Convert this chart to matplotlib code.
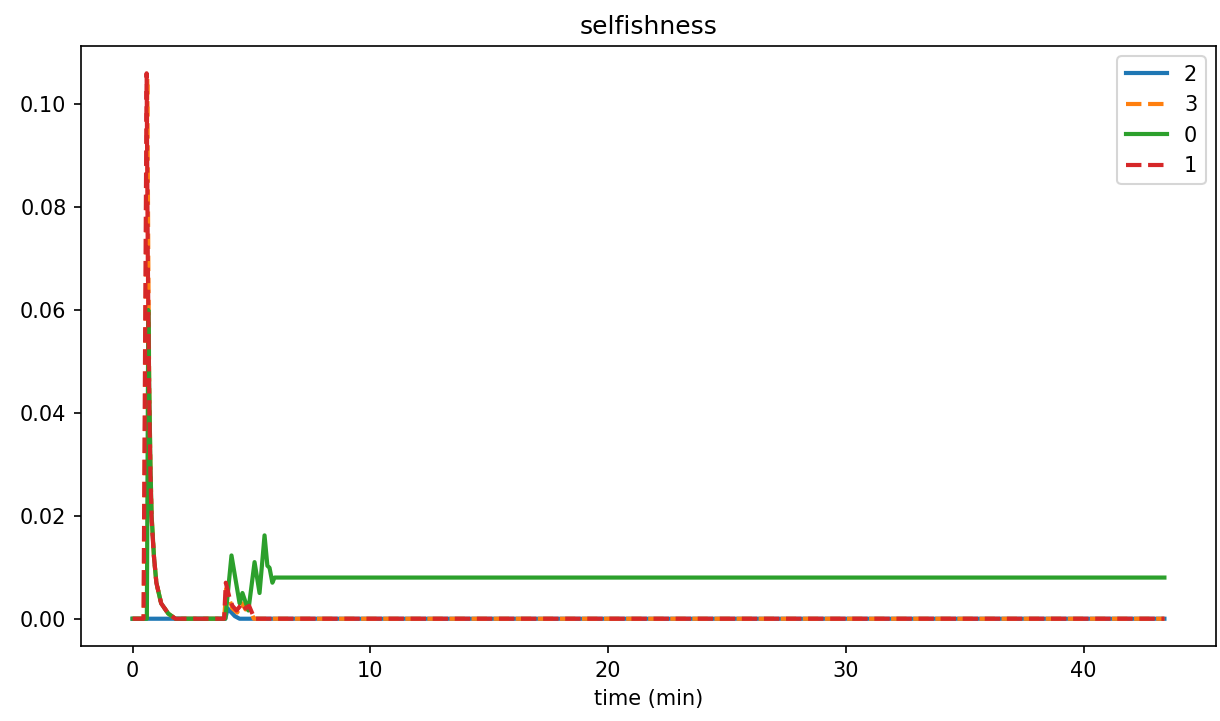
import matplotlib
matplotlib.use('Agg')
import matplotlib.pyplot as plt

# time (min) and selfishness readings for each group
t_2 = [0, 3.9, 4.0, 4.1, 4.3, 4.5, 43.4]
v_2 = [0, 0, 0.002, 0.0015, 0.0005, 0, 0]

t_3 = [0, 0.47, 0.62, 0.66, 0.7, 0.75, 0.8, 0.9, 1.0, 1.2, 1.5, 1.8,
       3.85, 3.95, 4.05, 4.2, 4.4, 4.6, 4.75, 4.9, 5.1, 43.4]
v_3 = [0, 0, 0.105, 0.07, 0.045, 0.03, 0.02, 0.012, 0.007, 0.003, 0.001, 0,
       0, 0.006, 0.004, 0.002, 0.0012, 0.003, 0.0018, 0.0022, 0, 0]

t_0 = [0, 0.6, 0.66, 0.7, 0.75, 0.8, 0.9, 1.0, 1.2, 1.5, 1.8,
       3.9, 4.16, 4.5, 4.62, 4.87, 5.13, 5.34, 5.55, 5.67, 5.76, 5.88, 5.97, 43.4]
v_0 = [0, 0, 0.06, 0.045, 0.03, 0.02, 0.012, 0.007, 0.003, 0.001, 0,
       0, 0.0123, 0.003, 0.005, 0.0016, 0.011, 0.005, 0.0162, 0.0103, 0.0099, 0.007, 0.008, 0.008]

t_1 = [0, 0.46, 0.59, 0.64, 0.7, 0.75, 0.8, 0.9, 1.0, 1.2, 1.5, 1.8,
       3.85, 3.92, 4.08, 4.2, 4.37, 4.62, 4.75, 4.9, 5.13, 43.4]
v_1 = [0, 0, 0.106, 0.07, 0.042, 0.028, 0.019, 0.012, 0.007, 0.003, 0.001, 0,
       0, 0.007, 0.004, 0.0025, 0.0016, 0.003, 0.002, 0.0025, 0, 0]

fig = plt.figure(figsize=(1220 / 150, 721 / 150), dpi=150)
ax = fig.add_axes([81 / 1220, 1 - 646 / 721, (1216 - 81) / 1220, (646 - 46) / 721])

ax.plot(t_2, v_2, color='C0', linestyle='-', lw=2, label='2')
ax.plot(t_3, v_3, color='C1', linestyle='--', lw=2, label='3')
ax.plot(t_0, v_0, color='C2', linestyle='-', lw=2, label='0')
ax.plot(t_1, v_1, color='C3', linestyle='--', lw=2, label='1')

ax.set_title('selfishness')
ax.set_xlabel('time (min)')
ax.legend(loc='upper right')

fig.savefig('out.png', dpi=150)
